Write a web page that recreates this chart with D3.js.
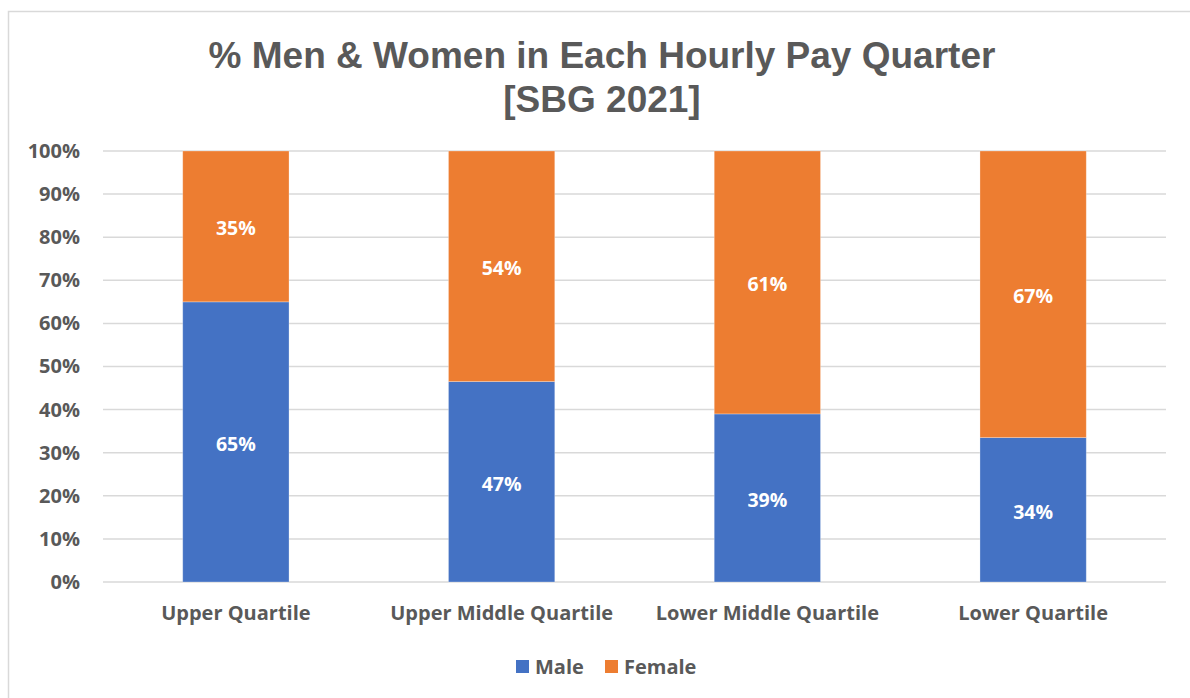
<!DOCTYPE html>
<html>
<head>
<meta charset="utf-8">
<script src="https://cdn.jsdelivr.net/npm/d3@7"></script>
<style>
  body { margin: 0; background: #fff; }
  svg text { font-family: "Open Sans", Lato, sans-serif; }
</style>
</head>
<body>
<div id="chart"></div>
<script>
// quartile categories and the two stacked series (percent)
const categories = ['Upper Quartile', 'Upper Middle Quartile', 'Lower Middle Quartile', 'Lower Quartile'];
const male = [65, 46.5, 39, 33.5];
const female = [35, 53.5, 61, 66.5];
const seriesNames = ['Male', 'Female'];
const yTicks = [0, 10, 20, 30, 40, 50, 60, 70, 80, 90, 100];

const W = 1190, H = 698;
const margin = { left: 103, right: 24, top: 151, bottom: 116 };
const colors = ['#4472C4', '#ED7D31'];
const grey = '#595959';

const svg = d3.select('#chart').append('svg')
  .attr('width', W).attr('height', H);

// chart border (only top/left visible in reference)
svg.append('rect')
  .attr('x', 8.5).attr('y', 11.5)
  .attr('width', W + 20).attr('height', H + 20)
  .attr('fill', '#fff').attr('stroke', '#d9d9d9').attr('stroke-width', 1.5);

// title
const title = svg.append('text')
  .attr('text-anchor', 'middle')
  .style('font-family', '"Liberation Sans", Arial, sans-serif')
  .style('font-weight', 'bold')
  .style('font-size', '37px')
  .attr('fill', grey);
title.append('tspan').attr('x', 602).attr('y', 68).text('% Men & Women in Each Hourly Pay Quarter');
title.append('tspan').attr('x', 602).attr('y', 112).text('[SBG 2021]');

const x = d3.scaleBand()
  .domain(categories)
  .range([margin.left, W - margin.right])
  .paddingInner(0.6).paddingOuter(0.3);

const y = d3.scaleLinear()
  .domain([0, 100])
  .range([H - margin.bottom, margin.top]);

// gridlines
svg.append('g')
  .selectAll('line')
  .data(yTicks)
  .join('line')
  .attr('x1', margin.left).attr('x2', W - margin.right)
  .attr('y1', d => y(d)).attr('y2', d => y(d))
  .attr('stroke', '#d9d9d9').attr('stroke-width', 1.5);

// y axis labels
const yAxis = d3.axisLeft(y).tickValues(yTicks).tickFormat(d => d + '%').tickSize(0).tickPadding(23);
const gy = svg.append('g').attr('transform', `translate(${margin.left},0)`).call(yAxis);
gy.select('.domain').remove();
gy.selectAll('text')
  .attr('fill', grey)
  .style('font-size', '20px')
  .style('font-weight', 'bold');

// stacked data
const rows = categories.map((c, i) => ({ cat: c, Male: male[i], Female: female[i] }));
const stacked = d3.stack().keys(seriesNames)(rows);

const layers = svg.append('g').selectAll('g')
  .data(stacked)
  .join('g')
  .attr('fill', (d, i) => colors[i]);

layers.selectAll('rect')
  .data(d => d)
  .join('rect')
  .attr('x', d => x(d.data.cat))
  .attr('width', x.bandwidth())
  .attr('y', d => y(d[1]))
  .attr('height', d => y(d[0]) - y(d[1]))
  .attr('stroke', 'rgba(255,255,255,0.35)').attr('stroke-width', 0.8);

layers.selectAll('text')
  .data(d => d)
  .join('text')
  .attr('x', d => x(d.data.cat) + x.bandwidth() / 2)
  .attr('y', d => (y(d[0]) + y(d[1])) / 2)
  .attr('dy', '0.45em')
  .attr('text-anchor', 'middle')
  .attr('fill', '#fff')
  .style('font-size', '19.5px')
  .style('font-weight', 'bold')
  .text(d => Math.round(d[1] - d[0] + 1e-9) + '%');

// x axis labels
const xAxis = d3.axisBottom(x).tickSize(0).tickPadding(24);
const gx = svg.append('g').attr('transform', `translate(0,${H - margin.bottom})`).call(xAxis);
gx.select('.domain').remove();
gx.selectAll('text')
  .attr('fill', grey)
  .style('font-size', '20px')
  .style('font-weight', 'bold');

// legend
const legendX = [516, 605];
const legend = svg.append('g').selectAll('g')
  .data(seriesNames)
  .join('g')
  .attr('transform', (d, i) => `translate(${legendX[i]},660)`);
legend.append('rect')
  .attr('width', 13).attr('height', 13)
  .attr('fill', (d, i) => colors[i]);
legend.append('text')
  .attr('x', 19).attr('y', 6.5).attr('dy', '0.36em')
  .attr('fill', grey)
  .style('font-size', '20px')
  .style('font-weight', 'bold')
  .text(d => d);
</script>
</body>
</html>
